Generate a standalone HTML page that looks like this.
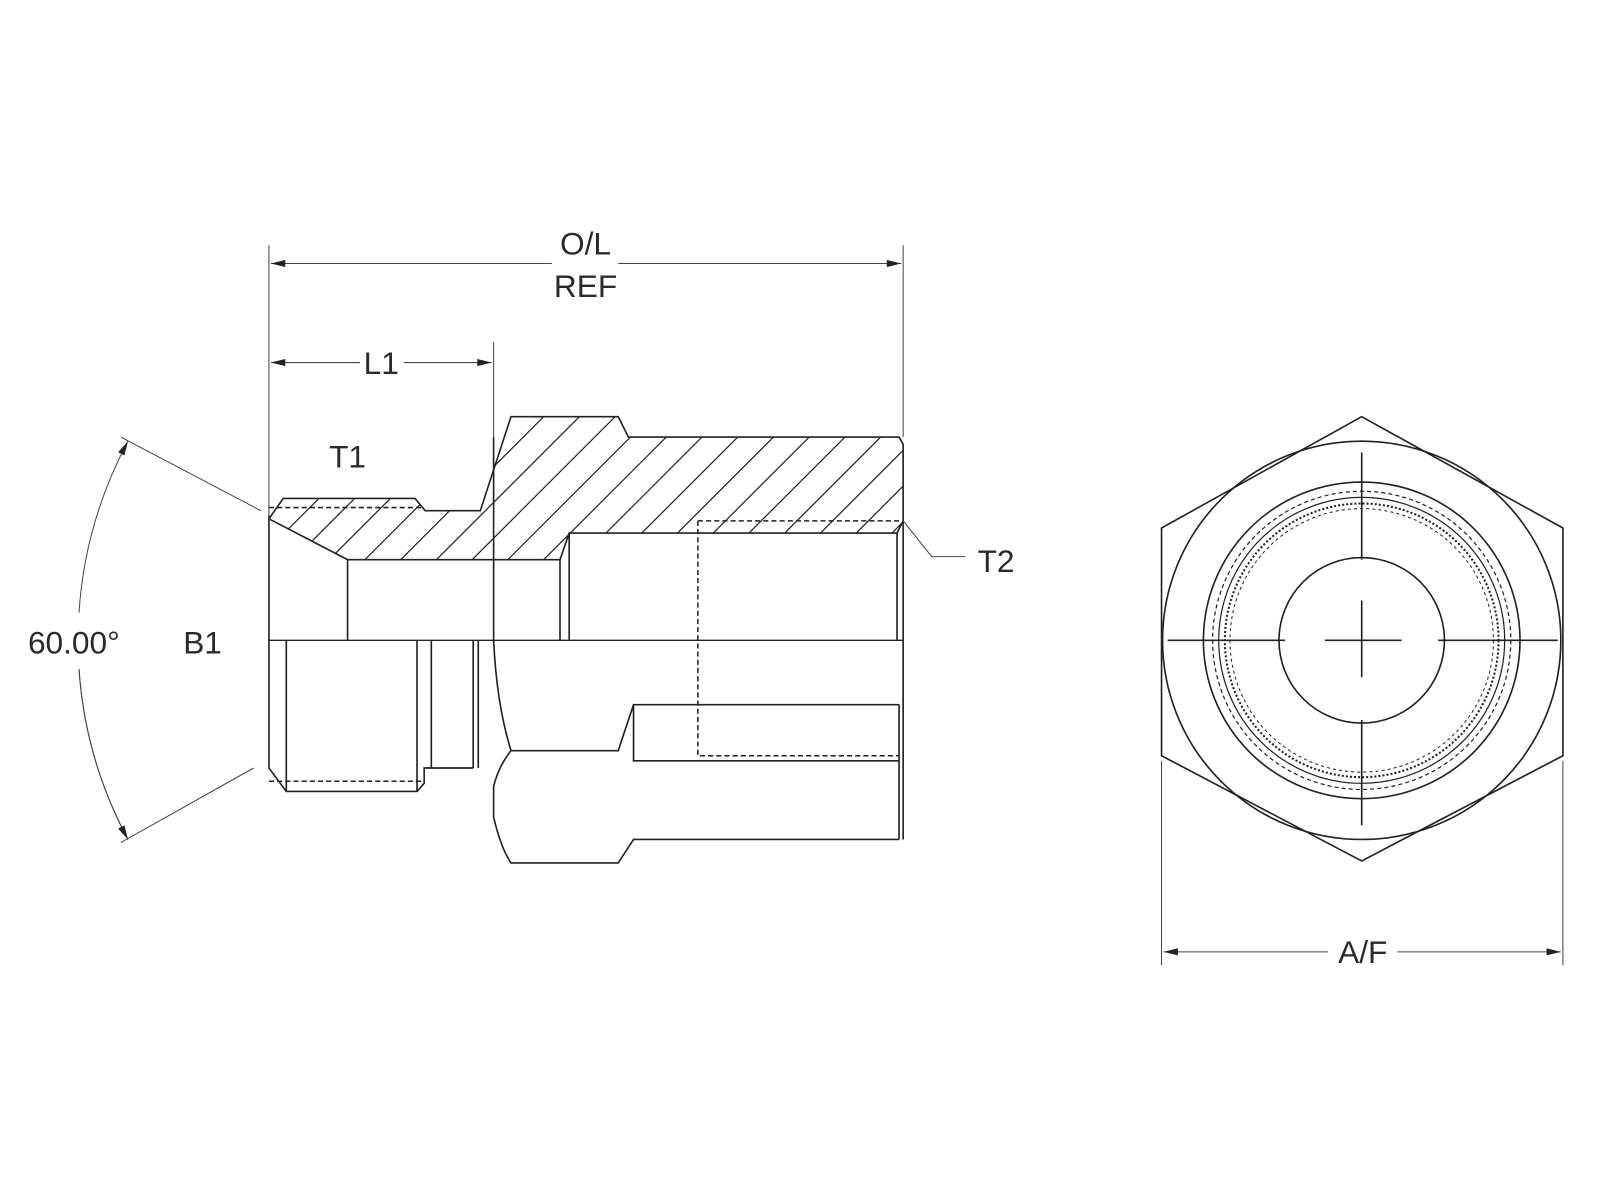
<!DOCTYPE html>
<html><head><style>html,body{margin:0;padding:0;background:#fff;}svg{display:block}</style></head>
<body>
<svg width="1600" height="1200" viewBox="0 0 1566 1175" xmlns="http://www.w3.org/2000/svg" font-family="Liberation Sans, sans-serif">
<defs>
<clipPath id="hc"><path d="M263,508 L277,488 L406,488 L416,500 L470,500 L500,408 L605,408 L615,428 L880,428 L884,435 L884,510 L878,522 L557,522 L548,548 L340,548 Z"/></clipPath>
<marker id="ar" viewBox="0 0 12 6" refX="12" refY="3" markerWidth="18" markerHeight="7" orient="auto-start-reverse" markerUnits="userSpaceOnUse"><path d="M0,0 L12,3 L0,6 Z" fill="#222"/></marker>
</defs>
<rect width="1566" height="1175" fill="#fff"/>
<g stroke="#222" fill="none" stroke-width="1.6">
<!-- hatch -->
<g clip-path="url(#hc)" stroke-width="1.2">
<path d="M200,600 L400,400 M235,600 L435,400 M270,600 L470,400 M305,600 L505,400 M340,600 L540,400 M375,600 L575,400 M410,600 L610,400 M445,600 L645,400 M480,600 L680,400 M515,600 L715,400 M550,600 L750,400 M585,600 L785,400 M620,600 L820,400 M655,600 L855,400 M690,600 L890,400 M725,600 L925,400 M760,600 L960,400 M795,600 L995,400 M830,600 L1030,400"/>
</g>
<path d="M263,508 L277,488 L406,488 L416,500 L470,500 L500,408 L605,408 L615,428 L880,428 L884,435 L884,822"/>
<path d="M263,508 L340,548 L548,548 L557,522 L878,522 L884,510"/>
<path d="M263,505 L263,752 L280,775 L408,775 L415,767 L415,752 L463,752"/>
<path d="M263,627 L884,627" stroke-width="1.3"/>
<path d="M340,548 V627 M548,548 V627 M557,522 V627 M878,522 V627"/>
<path d="M280,627 V775 M408,627 V775 M422,627 V752 M463,627 V752 M468,627 V752"/>
<path d="M483,428 V627"/>
<path d="M483,627 Q486,690 500,735 Q488,750 483,770 L483,800 Q490,830 500,845 L605,845 L620,822 L880,822"/>
<path d="M500,735 L605,735 L620,690 L880,690 M620,690 V745 L880,745 M880,690 V822"/>
<g stroke-dasharray="5,3" stroke-width="1.5">
<path d="M263,497 L415,497 M263,765 L415,765"/>
<path d="M683,510 L880,510 M683,510 V740 L880,740"/>
</g>
<!-- dimensions -->
<g stroke-width="1" stroke="#444">
<path d="M263,240 V505 M884,240 V428 M483,335 V428"/>
<path d="M265,258 L540,258 M605,258 L882,258" marker-start="url(#ar)" marker-end="url(#ar)"/>
<path d="M265,355 L352,355 M395,355 L481,355" marker-start="url(#ar)" marker-end="url(#ar)"/>
<path d="M884,510 L912,545 L945,545"/>
<path d="M118,428 L255,500 M118,825 L248,752"/>
<path d="M125,432 A413,413 0 0 0 77,600 M77,655 A413,413 0 0 0 125,822" marker-start="url(#ar)"/>
<path d="M77,655 A413,413 0 0 0 125,822" marker-end="url(#ar)"/>
<path d="M1137,745 V945 M1530,745 V945"/>
<path d="M1139,932 L1300,932 M1368,932 L1528,932" marker-start="url(#ar)" marker-end="url(#ar)"/>
</g>
<!-- right view -->
<path d="M1333,408 L1530,517 L1530,740 L1333,843 L1137,740 L1137,517 Z"/>
<circle cx="1333" cy="627" r="195"/>
<circle cx="1333" cy="627" r="155"/>
<circle cx="1333" cy="627" r="146" stroke-dasharray="4,3" stroke-width="1.2"/>
<circle cx="1333" cy="627" r="140" stroke-width="1.2"/>
<circle cx="1333" cy="627" r="134" stroke-dasharray="2,2" stroke-width="2"/>
<circle cx="1333" cy="627" r="129" stroke-dasharray="3,3" stroke-width="1"/>
<circle cx="1333" cy="627" r="81"/>
<path d="M1143,627 H1258 M1297,627 H1372 M1408,627 H1525 M1333,443 V548 M1333,588 V663 M1333,705 V808"/>
</g>
<g fill="#2a2a2a" font-size="31" text-anchor="middle">
<text x="573" y="249">O/L</text>
<text x="573" y="291">REF</text>
<text x="373" y="366">L1</text>
<text x="340" y="458">T1</text>
<text x="975" y="560">T2</text>
<text x="72" y="640">60.00°</text>
<text x="198" y="640">B1</text>
<text x="1334" y="943">A/F</text>
</g>
</svg>
</body></html>
